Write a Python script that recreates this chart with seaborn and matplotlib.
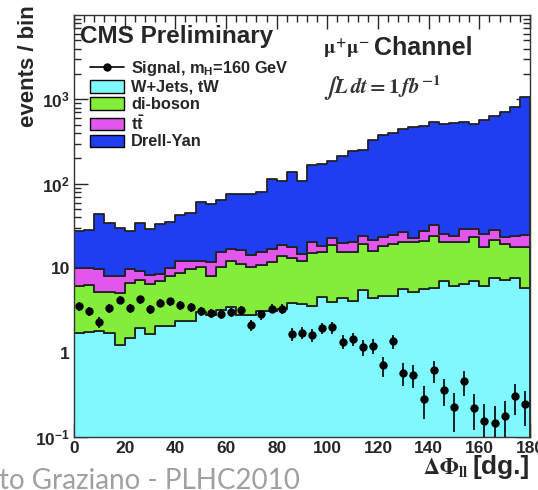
import numpy as np
import pandas as pd
import matplotlib
matplotlib.use("Agg")
import matplotlib.pyplot as plt
import seaborn as sns
from matplotlib.patches import Patch
from matplotlib.lines import Line2D
from matplotlib.ticker import MultipleLocator, LogLocator, NullFormatter

# 45 bins of 4 degrees in delta-phi
bin_edges = np.arange(0, 184, 4)
bin_centers = bin_edges[:-1] + 2

# per-bin yields
wjets = [1.70, 1.75, 1.78, 1.72, 1.24, 1.47, 1.97, 1.66, 2.06, 2.04, 2.36, 2.36, 2.99, 2.76, 3.16,
         3.43, 2.79, 2.76, 3.14, 3.10, 3.25, 3.91, 3.73, 3.53, 4.55, 4.01, 4.39, 4.12, 5.55, 4.45,
         4.68, 4.68, 5.70, 5.28, 5.70, 5.89, 7.00, 6.11, 6.50, 7.06, 6.22, 7.75, 7.26, 7.75, 5.89]
diboson = [4.52, 4.53, 3.47, 3.46, 3.90, 5.16, 5.23, 4.79, 5.04, 6.06, 6.48, 7.50, 7.21, 5.43, 7.24,
           8.77, 8.41, 7.44, 7.76, 8.70, 10.75, 9.29, 8.47, 11.57, 10.85, 14.79, 11.01, 11.58, 14.05, 11.45,
           13.82, 14.42, 14.80, 14.92, 15.30, 18.41, 13.70, 14.09, 13.70, 16.54, 11.68, 13.95, 11.84, 9.85, 12.11]
ttbar = [3.88, 3.72, 4.48, 3.01, 3.01, 3.23, 2.09, 1.81, 1.50, 1.82, 3.36, 2.34, 1.90, 3.61, 5.10,
         4.60, 5.30, 4.10, 4.70, 5.00, 4.60, 4.40, 2.50, 5.10, 3.00, 3.70, 4.40, 5.00, 4.40, 5.60,
         5.20, 5.90, 6.10, 2.40, 6.80, 7.80, 4.90, 3.70, 8.90, 5.50, 7.70, 6.60, 4.30, 6.30, 6.90]
drell_yan = [17.7, 18.6, 34.6, 26.1, 21.6, 18.0, 24.7, 21.1, 25.1, 25.1, 30.3, 32.3, 49.0, 46.0, 49.0,
             58.2, 58.5, 61.7, 65.4, 97.9, 87.9, 120.2, 93.0, 144.8, 151.4, 161.5, 195.2, 226.3, 225.0, 309.5,
             352.3, 377.0, 425.4, 450.4, 462.2, 514.9, 492.4, 508.1, 505.9, 477.9, 541.4, 607.7, 690.6, 788.1, 1043.0]
signal = [3.56, 3.10, 2.28, 3.36, 4.18, 3.39, 4.27, 3.29, 3.87, 4.04, 3.65, 3.46, 3.12, 2.94, 2.90,
          3.03, 3.21, 2.11, 2.83, 3.32, 3.31, 1.67, 1.73, 1.63, 1.95, 2.00, 1.35, 1.46, 1.16, 1.19,
          0.706, 1.36, 0.573, 0.547, 0.285, 0.619, 0.361, 0.226, 0.455, 0.220, 0.153, 0.146, 0.179, 0.302, 0.245]
signal_err = [0.42, 0.39, 0.34, 0.41, 0.46, 0.41, 0.46, 0.41, 0.44, 0.45, 0.43, 0.42, 0.39, 0.38, 0.38,
              0.39, 0.40, 0.32, 0.38, 0.41, 0.41, 0.29, 0.29, 0.29, 0.31, 0.32, 0.26, 0.27, 0.24, 0.24,
              0.19, 0.26, 0.17, 0.17, 0.12, 0.18, 0.13, 0.11, 0.15, 0.10, 0.09, 0.09, 0.09, 0.12, 0.11]

# first entry ends up on top of the stack in seaborn
stack_order = ["Drell-Yan", "ttbar", "di-boson", "W+Jets, tW"]
colors = {"W+Jets, tW": "#80F8FF", "di-boson": "#82EE3A", "ttbar": "#E256EE", "Drell-Yan": "#1F3EF2"}

df = pd.concat([
    pd.DataFrame({"dphi": bin_centers, "events": wjets, "process": "W+Jets, tW"}),
    pd.DataFrame({"dphi": bin_centers, "events": diboson, "process": "di-boson"}),
    pd.DataFrame({"dphi": bin_centers, "events": ttbar, "process": "ttbar"}),
    pd.DataFrame({"dphi": bin_centers, "events": drell_yan, "process": "Drell-Yan"}),
], ignore_index=True)

sns.set_style("ticks")
plt.rcParams["font.family"] = ["Liberation Sans", "DejaVu Sans"]
plt.rcParams["font.weight"] = "bold"
plt.rcParams["mathtext.fontset"] = "custom"
plt.rcParams["mathtext.rm"] = "Liberation Sans:bold"
plt.rcParams["mathtext.bf"] = "Liberation Sans:bold"
plt.rcParams["mathtext.it"] = "Liberation Sans:italic:bold"

W, H = 538, 490
fig = plt.figure(figsize=(W / 100, H / 100), dpi=100)
ax = fig.add_axes([74 / W, 1 - 437 / H, 456 / W, 422 / H])

sns.histplot(data=df, x="dphi", weights="events", hue="process", hue_order=stack_order,
             palette=colors, multiple="stack", element="step", binwidth=4, binrange=(0, 180),
             alpha=1, edgecolor="#222222", linewidth=1.3, legend=False, ax=ax)

ax.errorbar(bin_centers, signal, yerr=signal_err, fmt="o", color="black",
            markersize=5, elinewidth=1.2, capsize=0, zorder=5)

ax.set_yscale("log")
ax.set_xlim(0, 180)
ax.set_ylim(0.1, 1e4)
ax.set_xlabel("")
ax.set_ylabel("")

ax.xaxis.set_major_locator(MultipleLocator(20))
ax.xaxis.set_minor_locator(MultipleLocator(4))
ax.set_yticks([0.1, 1, 10, 100, 1000])
ax.set_yticklabels([r"$\mathbf{10^{-1}}$", "1", "10", r"$\mathbf{10^{2}}$", r"$\mathbf{10^{3}}$"])
ax.yaxis.set_minor_locator(LogLocator(subs=np.arange(2, 10), numticks=20))
ax.yaxis.set_minor_formatter(NullFormatter())
ax.tick_params(which="both", direction="in", top=True, right=True, labelsize=12.5, pad=3)
ax.tick_params(which="major", length=10, width=1)
ax.tick_params(which="minor", length=5, width=1)
for sp in ax.spines.values():
    sp.set_linewidth(1)
    sp.set_color("#333333")

handles = [
    Line2D([0], [0], color="black", lw=1.2, marker="o", markersize=5),
    Patch(facecolor=colors["W+Jets, tW"], edgecolor="black", lw=1),
    Patch(facecolor=colors["di-boson"], edgecolor="black", lw=1),
    Patch(facecolor=colors["ttbar"], edgecolor="black", lw=1),
    Patch(facecolor=colors["Drell-Yan"], edgecolor="black", lw=1),
]
labels = [r"Signal, m$_{\mathbf{H}}$=160 GeV", "W+Jets, tW", "di-boson",
          r"$\mathbf{t\bar{t}}$", "Drell-Yan"]
fig.legend(handles, labels, loc="upper left", bbox_to_anchor=(90 / W, 1 - 59 / H),
           frameon=False, fontsize=11.8, handlelength=2.1, handleheight=0.8,
           handletextpad=0.4, labelspacing=0.12, borderpad=0, borderaxespad=0)

fig.text(80 / W, 1 - 36 / H, "CMS Preliminary", fontsize=17.5, weight="bold", va="center")
mu_txt = fig.text(323 / W, 1 - 55 / H, r"$\mathrm{\mu}^{+}\mathrm{\mu}^{-}$", fontsize=14,
                  math_fontfamily="stix", va="baseline", weight="normal")
fig.text(323 / W, 1 - 93 / H, r"$\int L\,dt = 1\,fb^{-1}$", fontsize=15, color="#333333",
         math_fontfamily="stix", va="baseline", weight="normal")

fig.text(28 / W, 1 - 5 / H, "events / bin", rotation=90, ha="center", va="top",
         fontsize=16, weight="bold")
dg_txt = fig.text(530 / W, 1 - 467 / H, "[dg.]", ha="right", va="center", fontsize=19, weight="bold")

fig.text(-1 / W, 1 - 468 / H, "to Graziano - PLHC2010", color="#a0a0a0", fontsize=20,
         family="Lato", weight="normal", va="top")

# place the pieces that follow a measured text
fig.canvas.draw()
renderer = fig.canvas.get_renderer()
mu_box = mu_txt.get_window_extent(renderer)
fig.text((mu_box.x1 + 4) / W, 1 - 55 / H, "Channel", fontsize=18, weight="bold", va="baseline")
dg_box = dg_txt.get_window_extent(renderer)
fig.text((dg_box.x0 - 4) / W, 1 - 467 / H, r"$\Delta\Phi_{\mathrm{ll}}$", ha="right", va="center",
         fontsize=16, math_fontfamily="stix", weight="normal")

fig.savefig("out.png", dpi=100)
